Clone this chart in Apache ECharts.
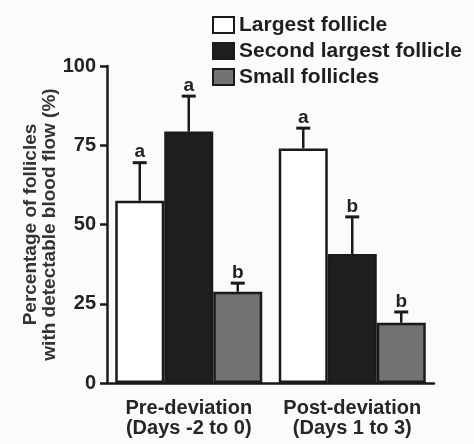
<!DOCTYPE html>
<html><head><meta charset="utf-8">
<script src="https://cdn.jsdelivr.net/npm/echarts@6/dist/echarts.min.js"></script>
<style>html,body{margin:0;padding:0;background:#fbfbfa}#c{width:474px;height:444px}</style>
</head><body><div id="c"></div>
<script>
var categories = ['Pre-deviation\n(Days -2 to 0)', 'Post-deviation\n(Days 1 to 3)'];
var seriesNames = ['Largest follicle', 'Second largest follicle', 'Small follicles'];
var largest = [57.5, 74];
var second = [79.3, 40.7];
var small = [28.8, 19];
var largestErr = [69.5, 80.4];
var secondErr = [90.5, 52.4];
var smallErr = [31.5, 22.4];
var largestLetters = ['a', 'a'];
var secondLetters = ['a', 'b'];
var smallLetters = ['b', 'b'];
var yTicks = [0, 25, 50, 75, 100];

var values = [largest, second, small];
var errs = [largestErr, secondErr, smallErr];
var letters = [largestLetters, secondLetters, smallLetters];
var colors = ['#ffffff', '#1e1e1e', '#727272'];
var BAR_W = 49;
var FONT = 'Liberation Sans, Arial, sans-serif';

var errData = [];
for (var s = 0; s < 3; s++) for (var i = 0; i < categories.length; i++) {
  errData.push([i, values[s][i], errs[s][i], s, letters[s][i]]);
}

var chart = echarts.init(document.getElementById('c'));
var series = seriesNames.map(function (n, s) {
  return {
    name: n, type: 'bar', data: values[s], barWidth: BAR_W, barGap: '0%',
    itemStyle: { color: colors[s], borderColor: '#1a1a1a', borderWidth: 2.5 }
  };
});
series.push({
  type: 'custom', data: errData, z: 5, silent: true,
  renderItem: function (params, api) {
    var ci = api.value(0), v = api.value(1), e = api.value(2), s = api.value(3);
    var lt = errData[params.dataIndex][4];
    var p0 = api.coord([ci, v]);
    var p1 = api.coord([ci, e]);
    var x = p0[0] + (s - 1) * BAR_W;
    return {
      type: 'group', children: [
        { type: 'line', shape: { x1: x, y1: p0[1], x2: x, y2: p1[1] }, style: { stroke: '#1a1a1a', lineWidth: 2.5 } },
        { type: 'line', shape: { x1: x - 7, y1: p1[1], x2: x + 7, y2: p1[1] }, style: { stroke: '#1a1a1a', lineWidth: 3 } },
        { type: 'text', style: { text: lt, x: x, y: p1[1] - 1, align: 'center', verticalAlign: 'bottom', font: 'bold 19px ' + FONT, fill: '#222' } }
      ]
    };
  }
});

chart.setOption({
  backgroundColor: '#fbfbfa',
  animation: false,
  legend: {
    data: seriesNames, orient: 'vertical', left: 207, top: 9, itemWidth: 21, itemHeight: 16, itemGap: 4,
    icon: 'rect',
    textStyle: { fontFamily: FONT, fontWeight: 'bold', fontSize: 21, color: '#1e1e1e', lineHeight: 22 }
  },
  grid: { left: 107, right: 40, top: 66, bottom: 61 },
  xAxis: {
    type: 'category', data: categories,
    axisLine: { lineStyle: { color: '#1a1a1a', width: 2.5 } },
    axisTick: { show: false },
    axisLabel: { interval: 0, fontFamily: FONT, fontWeight: 'bold', fontSize: 20, color: '#262626', lineHeight: 20, margin: 15 }
  },
  yAxis: {
    type: 'value', min: yTicks[0], max: yTicks[yTicks.length - 1], interval: 25,
    name: 'Percentage of follicles\nwith detectable blood flow (%)', nameLocation: 'middle', nameGap: 48,
    nameMoveOverlap: false,
    nameTextStyle: { fontFamily: FONT, fontWeight: 'bold', fontSize: 19, color: '#333', lineHeight: 19 },
    axisLine: { show: true, lineStyle: { color: '#1a1a1a', width: 2.5 } },
    axisTick: { show: true, length: 7, lineStyle: { color: '#1a1a1a', width: 2.5 } },
    splitLine: { show: false },
    axisLabel: { fontFamily: FONT, fontWeight: 'bold', fontSize: 20, color: '#222', margin: 11 }
  },
  series: series
});
</script></body></html>
